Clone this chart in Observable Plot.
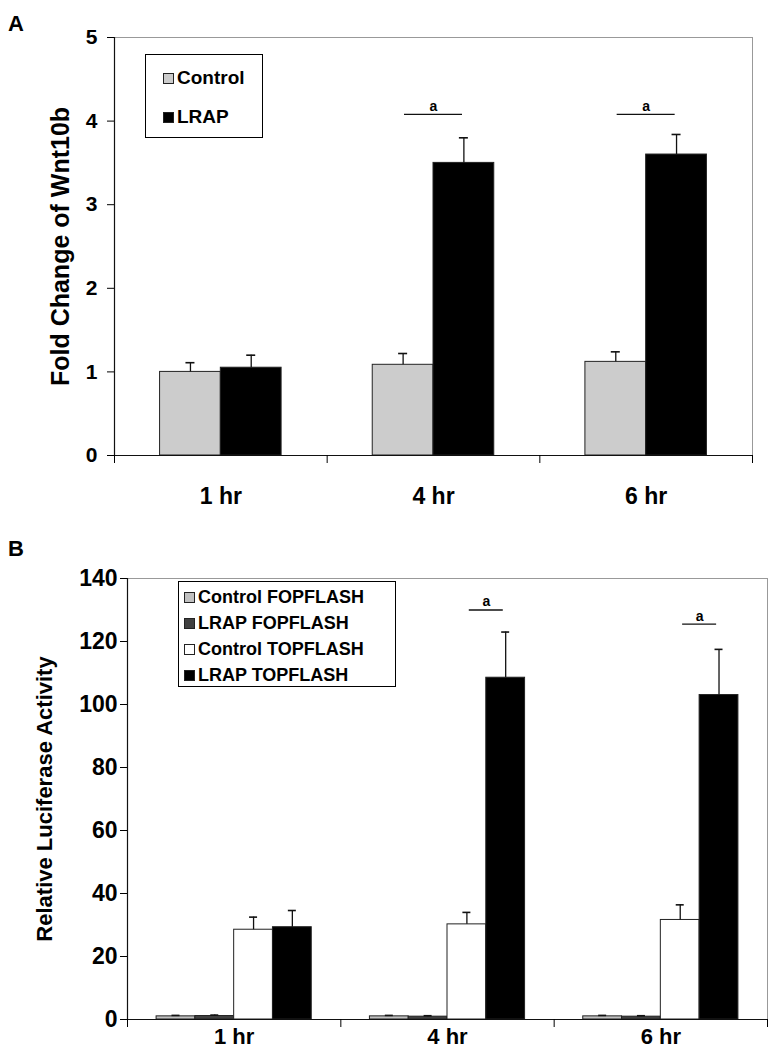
<!DOCTYPE html>
<html>
<head>
<meta charset="utf-8">
<script src="https://cdn.jsdelivr.net/npm/d3@7"></script>
<script src="https://cdn.jsdelivr.net/npm/@observablehq/plot@0.6"></script>
<style>
  html, body { margin: 0; padding: 0; background: white; }
  #wrap { position: relative; width: 776px; height: 1050px; font-family: "Liberation Sans", Arial, sans-serif; font-weight: bold; color: black; }
  .panel { position: absolute; left: 0; z-index: 1; }
  .plabel { position: absolute; font-size: 22px; font-weight: bold; z-index: 5; }
  .legend { position: absolute; border: 1px solid black; background: white; box-sizing: border-box; z-index: 5; }
  .legend .row { position: absolute; display: flex; align-items: center; white-space: nowrap; }
  .legend .sw { width: 9px; height: 9px; border: 1px solid #222; margin-right: 3px; }
</style>
</head>
<body>
<div id="wrap">
  <div class="plabel" style="left:8px; top:11px;">A</div>
  <div class="plabel" style="left:8px; top:536px;">B</div>
</div>
<script>
// ---------- Panel A data ----------
const timesA = ["1 hr", "4 hr", "6 hr"];
const seriesA = ["Control", "LRAP"];
const colorsA = ["#cccccc", "#000000"];
const controlA = [1.00, 1.085, 1.12];
const controlAErr = [0.11, 0.135, 0.12];
const lrapA = [1.05, 3.50, 3.60];
const lrapAErr = [0.15, 0.30, 0.24];
const sigTimesA = ["4 hr", "6 hr"];
const sigLevelA = [4.08, 4.08];
const yTicksA = [0, 1, 2, 3, 4, 5];

// ---------- Panel B data ----------
const timesB = ["1 hr", "4 hr", "6 hr"];
const seriesB = ["Control FOPFLASH", "LRAP FOPFLASH", "Control TOPFLASH", "LRAP TOPFLASH"];
const colorsB = ["#c0c0c0", "#404040", "#ffffff", "#000000"];
const ctrlFop = [1.0, 1.0, 1.0];
const ctrlFopErr = [0.3, 0.3, 0.3];
const lrapFop = [1.1, 0.9, 0.9];
const lrapFopErr = [0.3, 0.3, 0.3];
const ctrlTop = [28.5, 30.2, 31.6];
const ctrlTopErr = [4.0, 3.8, 4.8];
const lrapTop = [29.3, 108.5, 103.0];
const lrapTopErr = [5.3, 14.5, 14.5];
const sigTimesB = ["4 hr", "6 hr"];
const sigLevelB = [130.0, 125.5];
const yTicksB = [0, 20, 40, 60, 80, 100, 120, 140];

// Excel-style clustered layout: gap width 150% of a bar
const gapWidth = 1.5;
function clusterRows(times, series, values, errs) {
  const bw = 1 / (series.length + gapWidth);
  const rows = [];
  times.forEach((t, i) => {
    series.forEach((s, j) => {
      const x1 = i + (gapWidth / 2 + j) * bw;
      rows.push({time: t, series: s, x1, x2: x1 + bw, xc: x1 + bw / 2,
                 value: values[j][i], hi: values[j][i] + errs[j][i]});
    });
  });
  return rows;
}
function sigRows(times, allTimes, levels, series, leftIndex) {
  const bw = 1 / (series.length + gapWidth);
  return times.map((t, k) => {
    const i = allTimes.indexOf(t);
    return {time: t, xb: i + (gapWidth / 2 + leftIndex + 1) * bw, level: levels[k]};
  });
}

const rowsA = clusterRows(timesA, seriesA, [controlA, lrapA], [controlAErr, lrapAErr]);
const sigA = sigRows(sigTimesA, timesA, sigLevelA, seriesA, 0);
const rowsB = clusterRows(timesB, seriesB, [ctrlFop, lrapFop, ctrlTop, lrapTop], [ctrlFopErr, lrapFopErr, ctrlTopErr, lrapTopErr]);
const sigB = sigRows(sigTimesB, timesB, sigLevelB, seriesB, 2);

const font = "'Liberation Sans', Arial, sans-serif";

function panel({rows, sig, times, series, colors, yMax, yTicks, height, marginTop, marginBottom, marginLeft, marginRight,
                title, titleDx, titleSize, tickFont, xFont, xPad, sigHalf, capHalf, sigFont}) {
  const n = times.length;
  return Plot.plot({
    width: 776, height, marginTop, marginBottom, marginLeft, marginRight,
    style: {fontFamily: font, fontWeight: "bold", background: "white", overflow: "visible", color: "black"},
    x: {domain: [0, n], axis: null},
    y: {domain: [0, yMax], axis: null},
    color: {domain: series, range: colors},
    marks: [
      Plot.ruleY([yMax], {stroke: "#999", strokeWidth: 1}),
      Plot.ruleX([n], {stroke: "#999", strokeWidth: 1}),
      Plot.rect(rows, {x1: "x1", x2: "x2", y1: 0, y2: "value", fill: "series", stroke: "#222", strokeWidth: 1}),
      Plot.ruleX(rows, {x: "xc", y1: "value", y2: "hi", stroke: "#111", strokeWidth: 1.3}),
      Plot.ruleY(rows, {x1: "xc", x2: "xc", y: "hi", insetLeft: -capHalf, insetRight: -capHalf, stroke: "#111", strokeWidth: 1.6}),
      Plot.ruleY(sig, {x1: "xb", x2: "xb", y: "level", insetLeft: -sigHalf, insetRight: -sigHalf, stroke: "#111", strokeWidth: 1.3}),
      Plot.text(sig, {x: "xb", y: "level", text: () => "a", dy: -8, fontSize: sigFont, fontWeight: "bold"}),
      Plot.ruleY([0], {stroke: "#111", strokeWidth: 1.2}),
      Plot.ruleX([0], {stroke: "#111", strokeWidth: 1.2}),
      Plot.axisY({ticks: yTicks, tickSize: 7, tickPadding: tickFont.pad, fontSize: tickFont.size, fontWeight: "bold", label: null, tickFormat: d => String(d)}),
      Plot.axisX({ticks: d3.range(n + 1), tickSize: 8, tickFormat: () => "", label: null}),
      Plot.axisX({ticks: d3.range(n).map(i => i + 0.5), tickSize: 0, tickPadding: xPad, fontSize: xFont, fontWeight: "bold",
                  tickFormat: d => times[Math.floor(d)], label: null}),
      Plot.text([title], {frameAnchor: "left", textAnchor: "middle", lineAnchor: "middle", rotate: -90, dx: titleDx, fontSize: titleSize, fontWeight: "bold", text: d => d})
    ]
  });
}

const wrap = document.getElementById("wrap");

const svgA = panel({
  rows: rowsA, sig: sigA, times: timesA, series: seriesA, colors: colorsA,
  yMax: 5, yTicks: yTicksA, height: 530, marginTop: 37, marginBottom: 75, marginLeft: 114, marginRight: 24,
  title: "Fold Change of Wnt10b", titleDx: -54, titleSize: 25,
  tickFont: {size: 21, pad: 10}, xFont: 23, xPad: 32, sigHalf: 29, capHalf: 4.5, sigFont: 14
});
const divA = document.createElement("div");
divA.className = "panel"; divA.style.top = "0px";
divA.appendChild(svgA);
wrap.appendChild(divA);

const svgB = panel({
  rows: rowsB, sig: sigB, times: timesB, series: seriesB, colors: colorsB,
  yMax: 140, yTicks: yTicksB, height: 520, marginTop: 48, marginBottom: 31, marginLeft: 127, marginRight: 9,
  title: "Relative Luciferase Activity", titleDx: -83, titleSize: 22,
  tickFont: {size: 23, pad: 3}, xFont: 22, xPad: 9, sigHalf: 17, capHalf: 4, sigFont: 14
});
const divB = document.createElement("div");
divB.className = "panel"; divB.style.top = "530px";
divB.appendChild(svgB);
wrap.appendChild(divB);

// Legends (inside plot areas)
function legend(series, colors, box, rowTops, fontSize) {
  const lg = document.createElement("div");
  lg.className = "legend";
  Object.assign(lg.style, {left: box.left + "px", top: box.top + "px", width: box.width + "px", height: box.height + "px", fontSize: fontSize + "px"});
  series.forEach((s, k) => {
    const r = document.createElement("div");
    r.className = "row";
    r.style.left = box.padLeft + "px";
    r.style.top = rowTops[k] + "px";
    const sw = document.createElement("div");
    sw.className = "sw";
    sw.style.background = colors[k];
    const tx = document.createElement("span");
    tx.textContent = s;
    r.appendChild(sw); r.appendChild(tx);
    lg.appendChild(r);
  });
  wrap.appendChild(lg);
}
legend(seriesA, colorsA, {left: 145, top: 54, width: 118, height: 84, padLeft: 17}, [12, 51], 19);
legend(seriesB, colorsB, {left: 178, top: 581, width: 218, height: 106, padLeft: 5}, [5, 31, 57, 83], 18);
</script>
</body>
</html>
